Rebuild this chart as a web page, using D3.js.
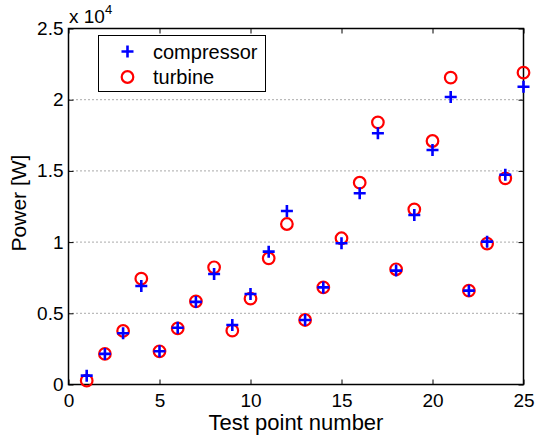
<!DOCTYPE html>
<html>
<head>
<meta charset="utf-8">
<script src="https://cdn.jsdelivr.net/npm/d3@7"></script>
<style>
  body { margin: 0; background: #fff; }
  svg { font-family: "Liberation Sans", Arial, sans-serif; }
</style>
</head>
<body>
<svg id="chart" width="535" height="441"></svg>
<script>
// Test points and measured power (W)
const testPoints = d3.range(1, 26);
const compressorPower = [620, 2150, 3600, 6920, 2330, 3990, 5800, 7760, 4180, 6360,
  9330, 12180, 4530, 6820, 9920, 13430, 17640, 8000, 11900, 16470,
  20190, 6590, 10030, 14730, 20910];
const turbinePower = [270, 2150, 3760, 7430, 2330, 3940, 5840, 8230, 3780, 6030,
  8860, 11270, 4530, 6820, 10270, 14170, 18410, 8090, 12300, 17100,
  21550, 6590, 9890, 14480, 21900];
const xTicks = [0, 5, 10, 15, 20, 25];
const yTicks = [0, 5000, 10000, 15000, 20000, 25000];
const yTickLabels = ["0", "0.5", "1", "1.5", "2", "2.5"];

const margin = { top: 28.5, right: 11.5, bottom: 56.5, left: 68.5 };
const width = 535 - margin.left - margin.right;
const height = 441 - margin.top - margin.bottom;

const svg = d3.select("#chart");
const g = svg.append("g")
  .attr("transform", `translate(${margin.left}, ${margin.top})`);

const x = d3.scaleLinear().domain([0, 25]).range([0, width]);
const y = d3.scaleLinear().domain([0, 25000]).range([height, 0]);

// horizontal dotted grid
g.selectAll(".grid")
  .data(yTicks.slice(1, -1))
  .enter()
  .append("line")
  .attr("x1", 0)
  .attr("x2", width)
  .attr("y1", d => y(d))
  .attr("y2", d => y(d))
  .attr("stroke", "#555")
  .attr("stroke-width", 1)
  .attr("stroke-dasharray", "1,3");

// axes with inward ticks
const tickStyle = sel => {
  sel.select(".domain").remove();
  sel.selectAll("line").attr("stroke", "#000");
  sel.selectAll("text").attr("font-size", "19px").attr("fill", "#000");
};

g.append("g")
  .attr("transform", `translate(0, ${height})`)
  .call(d3.axisBottom(x).tickValues(xTicks).tickSizeInner(-5).tickSizeOuter(0).tickPadding(9))
  .call(tickStyle);

g.append("g")
  .call(d3.axisTop(x).tickValues(xTicks).tickSizeInner(-5).tickSizeOuter(0).tickFormat(""))
  .call(tickStyle);

g.append("g")
  .call(d3.axisLeft(y).tickValues(yTicks).tickSizeInner(-5).tickSizeOuter(0).tickPadding(5)
    .tickFormat((d, i) => yTickLabels[i]))
  .call(tickStyle);

g.append("g")
  .attr("transform", `translate(${width}, 0)`)
  .call(d3.axisRight(y).tickValues(yTicks).tickSizeInner(-5).tickSizeOuter(0).tickFormat(""))
  .call(tickStyle);

// box
g.append("rect")
  .attr("width", width)
  .attr("height", height)
  .attr("fill", "none")
  .attr("stroke", "#000")
  .attr("stroke-width", 1.5);

// exponent label
const expo = svg.append("text")
  .attr("x", 69)
  .attr("y", 23)
  .attr("font-size", "19px")
  .attr("fill", "#000");
expo.append("tspan").text("x 10");
expo.append("tspan").attr("dy", -9).attr("font-size", "13px").text("4");

// turbine circles
g.selectAll(".turbine")
  .data(testPoints)
  .enter()
  .append("circle")
  .attr("cx", d => x(d))
  .attr("cy", (d, i) => y(turbinePower[i]))
  .attr("r", 5.8)
  .attr("fill", "none")
  .attr("stroke", "#ff0000")
  .attr("stroke-width", 2.2);

// compressor plus markers
g.selectAll(".compressor")
  .data(testPoints)
  .enter()
  .append("path")
  .attr("transform", (d, i) => `translate(${x(d)}, ${y(compressorPower[i])})`)
  .attr("d", "M-6,0H6M0,-6V6")
  .attr("stroke", "#0000ff")
  .attr("stroke-width", 2.6);

// axis labels
svg.append("text")
  .attr("x", margin.left + width / 2)
  .attr("y", 430)
  .attr("text-anchor", "middle")
  .attr("font-size", "22px")
  .text("Test point number");

svg.append("text")
  .attr("transform", "rotate(-90)")
  .attr("x", -203)
  .attr("y", 26)
  .attr("text-anchor", "middle")
  .attr("font-size", "21px")
  .text("Power [W]");

// legend
const legend = svg.append("g");
legend.append("rect")
  .attr("x", 98.5)
  .attr("y", 35.5)
  .attr("width", 167)
  .attr("height", 56)
  .attr("fill", "#fff")
  .attr("stroke", "#000")
  .attr("stroke-width", 1);

legend.append("path")
  .attr("transform", "translate(127.5, 51.5)")
  .attr("d", "M-6,0H6M0,-6V6")
  .attr("stroke", "#0000ff")
  .attr("stroke-width", 2.6);
legend.append("circle")
  .attr("cx", 127.5)
  .attr("cy", 77)
  .attr("r", 5.8)
  .attr("fill", "none")
  .attr("stroke", "#ff0000")
  .attr("stroke-width", 2.2);

legend.append("text")
  .attr("x", 153)
  .attr("y", 58.5)
  .attr("font-size", "20px")
  .text("compressor");
legend.append("text")
  .attr("x", 153)
  .attr("y", 84)
  .attr("font-size", "20px")
  .text("turbine");
</script>
</body>
</html>
